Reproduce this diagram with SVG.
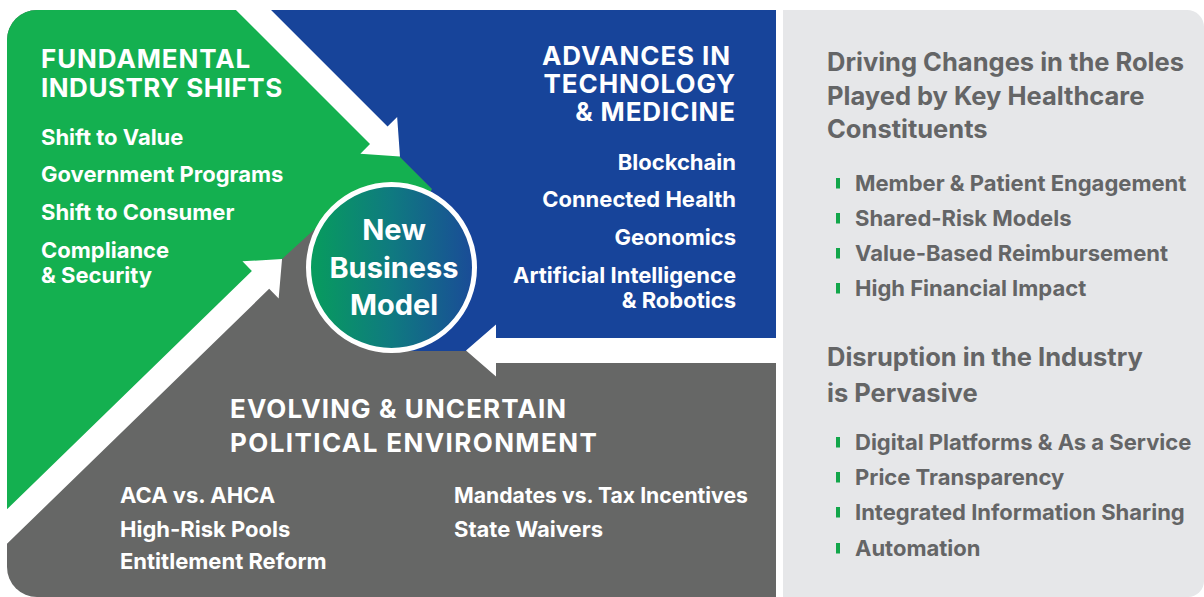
<svg xmlns="http://www.w3.org/2000/svg" width="1204" height="597" viewBox="0 0 1204 597">
<style>
text{font-family:Inter,"Open Sans","DejaVu Sans",sans-serif;font-weight:700;}
.w{fill:#ffffff;}
.h1{font-size:26px;letter-spacing:0.9px;}
.it{font-size:22px;}
.rh{font-size:25.5px;fill:#646566;}
.rb{font-size:22px;fill:#646566;}
.cc{font-size:29px;fill:#ffffff;text-anchor:middle;}
.ra{text-anchor:end;}
.bar{fill:#12a64a;}
.arr{fill:#ffffff;}
</style>
<defs>
<clipPath id="panel"><path d="M37,10 H776 V597 H37 A30,30 0 0 1 7,567 V40 A30,30 0 0 1 37,10 Z"/></clipPath>
<linearGradient id="cg" x1="0" y1="0" x2="1" y2="0">
<stop offset="0" stop-color="#079d5c"/>
<stop offset="0.5" stop-color="#0f7a80"/>
<stop offset="1" stop-color="#1a4b98"/>
</linearGradient>
</defs>
<rect width="1204" height="597" fill="#ffffff"/>
<g id="side-panel">
<path d="M783,10 H1187 A17,17 0 0 1 1204,27 V581 A16,16 0 0 1 1188,597 H783 Z" fill="#e6e7e9"/>
<text class="rh" x="827" y="71">Driving Changes in the Roles</text>
<text class="rh" x="827" y="105">Played by Key Healthcare</text>
<text class="rh" x="827" y="138">Constituents</text>
<rect class="bar" x="836" y="178" width="4" height="10.5"/><text class="rb" x="855" y="191">Member &amp; Patient Engagement</text>
<rect class="bar" x="836" y="213" width="4" height="10.5"/><text class="rb" x="855" y="226">Shared-Risk Models</text>
<rect class="bar" x="836" y="248" width="4" height="10.5"/><text class="rb" x="855" y="261">Value-Based Reimbursement</text>
<rect class="bar" x="836" y="283" width="4" height="10.5"/><text class="rb" x="855" y="296">High Financial Impact</text>
<text class="rh" x="827" y="366">Disruption in the Industry</text>
<text class="rh" x="827" y="402">is Pervasive</text>
<rect class="bar" x="836" y="437" width="4" height="10.5"/><text class="rb" x="855" y="450">Digital Platforms &amp; As a Service</text>
<rect class="bar" x="836" y="472" width="4" height="10.5"/><text class="rb" x="855" y="485">Price Transparency</text>
<rect class="bar" x="836" y="507" width="4" height="10.5"/><text class="rb" x="855" y="520">Integrated Information Sharing</text>
<rect class="bar" x="836" y="543" width="4" height="10.5"/><text class="rb" x="855" y="556">Automation</text>
</g>
<g clip-path="url(#panel)">
<g id="political-environment">
<rect x="0" y="0" width="780" height="597" fill="#666766"/>
</g>
<g id="industry-shifts">
<polygon points="0,0 243.5,0 400,157 432,189 392,268 317,227 282,259 0,533.3" fill="#14b050"/>
</g>
<g id="technology-medicine">
<polygon points="243.5,0 800,0 800,351 400,351 392,268 432,189 400,157" fill="#17449a"/>
</g>
<g id="connectors">
<polygon class="arr" transform="translate(243.5,0) rotate(45)" points="0,-12.4 191.3,-12.4 191.3,-26 221.3,0 191.3,26 191.3,12.4 0,12.4"/>
<polygon class="arr" transform="translate(806,350.5) rotate(180)" points="0,-12.5 310,-12.5 310,-26 340,0 310,26 310,12.5 0,12.5"/>
<polygon class="arr" transform="translate(-7.3,540.4) rotate(-44.2)" points="0,-12.4 373.6,-12.4 373.6,-26 403.6,0 373.6,26 373.6,12.4 0,12.4"/>
</g>
</g>
<g id="industry-shifts-text">
<text class="w h1" x="41" y="68">FUNDAMENTAL</text>
<text class="w h1" x="41" y="97" style="letter-spacing:0.5px">INDUSTRY SHIFTS</text>
<text class="w it" x="41" y="145">Shift to Value</text>
<text class="w it" x="41" y="182">Government Programs</text>
<text class="w it" x="41" y="220">Shift to Consumer</text>
<text class="w it" x="41" y="258">Compliance</text>
<text class="w it" x="41" y="283">&amp; Security</text>
</g>
<g id="technology-medicine-text">
<text class="w h1 ra" x="731" y="65">ADVANCES IN</text>
<text class="w h1 ra" x="736" y="93">TECHNOLOGY</text>
<text class="w h1 ra" x="736" y="121">&amp; MEDICINE</text>
<text class="w it ra" x="736" y="170">Blockchain</text>
<text class="w it ra" x="736" y="207">Connected Health</text>
<text class="w it ra" x="736" y="245">Geonomics</text>
<text class="w it ra" x="736" y="283">Artificial Intelligence</text>
<text class="w it ra" x="736" y="308">&amp; Robotics</text>
</g>
<g id="political-environment-text">
<text class="w h1" x="230" y="418" style="letter-spacing:1.1px">EVOLVING &amp; UNCERTAIN</text>
<text class="w h1" x="230" y="452" style="letter-spacing:1.4px">POLITICAL ENVIRONMENT</text>
<text class="w it" x="120" y="503">ACA vs. AHCA</text>
<text class="w it" x="120" y="537">High-Risk Pools</text>
<text class="w it" x="120" y="569">Entitlement Reform</text>
<text class="w it" x="454" y="503" style="font-size:21.2px">Mandates vs. Tax Incentives</text>
<text class="w it" x="454" y="537">State Waivers</text>
</g>
<g id="new-business-model">
<circle cx="391.5" cy="267.5" r="83" fill="url(#cg)" stroke="#ffffff" stroke-width="5"/>
<text class="cc" x="394" y="240">New</text>
<text class="cc" x="394" y="278">Business</text>
<text class="cc" x="394" y="315">Model</text>
</g>
</svg>
